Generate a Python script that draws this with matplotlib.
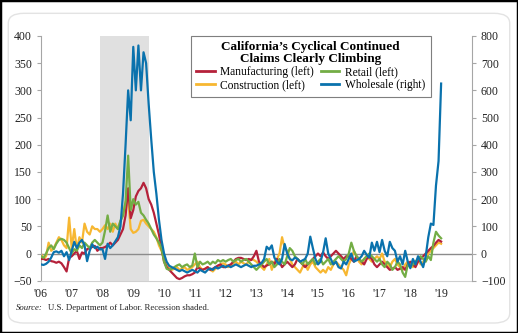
import numpy as np
import matplotlib
matplotlib.use("Agg")
import matplotlib.pyplot as plt
from matplotlib.patches import FancyBboxPatch, Rectangle
from matplotlib.lines import Line2D

plt.rcParams['font.family'] = ['Liberation Serif', 'DejaVu Serif']

# monthly, Jan 2006 .. Jan 2019, y/y % change in continued claims
manufacturing = (
    [-10, -10, -12, -10, -14, -15, -17, -15, -18, -25, -33, -8] +
    [-5, 0, 5, -10, 2, 0, 8, 10, 12, 14, 5, 10] +
    [10, 12, 15, 20, 15, 20, 25, 35, 45, 70, 120, 65] +
    [80, 105, 115, 120, 130, 120, 100, 90, 75, 55, 35, 10] +
    [-15, -25, -30, -35, -40, -45, -47, -45, -42, -40, -40, -38] +
    [-35, -25, -28, -30, -28, -25, -30, -28, -25, -22, -20, -25] +
    [-25, -22, -20, -15, -10, -8, -8, -10, -12, -10, -12, -5] +
    [5, -15, -20, -25, -22, -20, -15, -20, -10, -15, -25, -20] +
    [-15, -20, -25, -20, -10, -15, -20, -25, -20, -15, -10, -5] +
    [0, -5, 2, -5, -10, -5, 0, 5, 0, -5, -10, -5] +
    [-5, -10, -15, -5, -10, -15, -20, -10, -5, -10, -20, -25] +
    [-20, -15, -20, -25, -30, -28, -25, -30, -28, -25, -30, -20] +
    [-15, -20, -25, -15, -10, -5, 0, 5, 10, 14, 20, 25] +
    [22]
)
construction = (
    [0, -10, -5, 20, 5, 10, 20, 30, 25, 15, 10, 66] +
    [10, 45, 8, 30, 20, 55, 40, 35, 50, 45, 45, 40] +
    [45, 52, 45, 55, 40, 55, 45, 60, 70, 95, 100, 45] +
    [38, 40, 45, 60, 62, 55, 50, 45, 40, 30, 15, 5] +
    [-10, -20, -25, -30, -28, -25, -30, -28, -25, -30, -28, -25] +
    [-20, -15, -25, -30, -28, -25, -30, -33, -28, -25, -20, -18] +
    [-20, -25, -22, -18, -15, -20, -15, -18, -20, -15, -10, -12] +
    [-15, -20, -25, -30, -20, -10, -30, -15, -10, 0, 30, 10] +
    [5, -10, -20, -25, -30, -35, -25, -20, -30, -20, -15, -25] +
    [-30, -35, -30, -35, -25, -30, -20, -15, -20, -25, -30, -40] +
    [-20, -10, 5, -5, -15, -20, -10, -5, -10, -15, -10, -5] +
    [-10, 0, -15, -20, -25, -15, -10, -20, -25, -30, -20, -15] +
    [-20, -25, -15, -10, -20, -15, -10, 0, 5, 10, 15, 20] +
    [18]
)
retail = (
    [-5, -8, 0, 10, 15, 8, 18, 25, 27, 25, 20, 10] +
    [0, 8, 5, 15, 10, 20, 15, 10, 20, 25, 20, 15] +
    [20, 42, 70, 40, 55, 50, 45, 60, 70, 95, 180, 80] +
    [100, 90, 95, 75, 70, 62, 55, 45, 35, 28, 20, 10] +
    [-15, -28, -30, -28, -25, -22, -20, -25, -22, -20, -25, -22] +
    [0, -25, -15, -20, -18, -15, -20, -15, -18, -12, -15, -12] +
    [-15, -12, -10, -15, -12, -10, -15, -12, -10, -15, -20, -25] +
    [-30, -25, -20, -15, -10, -20, -15, -25, -20, -10, -15, -20] +
    [-5, 10, 5, -5, -10, -15, -20, -10, -20, -15, -10, -20] +
    [-15, -10, -20, -15, -10, -20, -15, -10, -5, -10, -15, -10] +
    [0, 20, 5, -5, -10, -15, -10, -5, 0, -5, -10, -15] +
    [-10, -20, -25, -15, -20, -30, -25, -15, -20, -35, -43, -20] +
    [-25, -20, -15, -10, -5, -10, -15, -5, -12, 20, 40, 33] +
    [28]
)
wholesale = (
    [-40, -42, -38, -30, -15, 5, 8, 3, 10, -10, 5, -24] +
    [10, 43, 20, 40, 50, 30, -28, 10, 34, 20, 25, 15] +
    [16, -20, 36, 20, 30, 45, 60, 100, 220, 400, 600, 490] +
    [760, 600, 765, 600, 740, 700, 550, 420, 300, 220, 125, 50] +
    [0, -30, -45, -50, -55, -60, -65, -60, -65, -70, -65, -60] +
    [-65, -70, -60, -65, -70, -60, -55, -60, -50, -55, -50, -45] +
    [-50, -45, -50, -45, -40, -45, -50, -45, -40, -45, -50, -45] +
    [-45, -40, -35, -20, 25, 15, 30, -15, -30, -40, -20, 35] +
    [0, -20, -25, -15, -20, -30, -25, -20, 0, 62, 20, -20] +
    [-40, -30, 5, 56, 0, -20, -40, -30, -50, -55, -30, -40] +
    [-20, 0, -30, -25, -20, -10, 10, -5, -15, 40, 10, 43] +
    [5, 50, 10, -10, 43, 20, 10, -30, -10, -40, 10, -30] +
    [-54, -20, -40, -10, -30, -50, -10, 60, 110, 105, 250, 340] +
    [625]
)
dates = 2006 + np.arange(len(wholesale)) / 12.0
recession = (2007 + 11 / 12, 2009.5)
years = list(range(2006, 2020))
year_labels = ["'%02d" % (y % 100) for y in years]

c_man = '#b5213a'
c_con = '#f7b731'
c_ret = '#73ad45'
c_who = '#0a72ad'
spine_c = '#a6a6a6'

fig = plt.figure(figsize=(5.18, 3.33), dpi=100)

# outer border and rounded frame
fig.patches.append(Rectangle((0, 0), 1, 1, transform=fig.transFigure,
                             fill=False, edgecolor='black', linewidth=2.5))
fig.patches.append(FancyBboxPatch((0.016, 0.03), 0.968, 0.93,
                                  boxstyle='round,pad=0,rounding_size=0.03',
                                  transform=fig.transFigure, fill=False,
                                  edgecolor='#e3e3e3', linewidth=1))

ax = fig.add_axes([0.079, 0.157, 0.832, 0.735])
ax2 = ax.twinx()

ax.axvspan(recession[0], recession[1], color='#e0e0e0', lw=0, zorder=0)
ax.axhline(0, color='#8c8c8c', lw=1, zorder=1)

lw = 1.6
ax.plot(dates, manufacturing, color=c_man, lw=lw, zorder=3)
ax.plot(dates, construction, color=c_con, lw=lw, zorder=2)
ax.plot(dates, retail, color=c_ret, lw=lw, zorder=4)
ax2.plot(dates, wholesale, color=c_who, lw=lw, zorder=5)

ax.set_xlim(2006, 2020)
ax.set_ylim(-50, 400)
ax2.set_ylim(-100, 800)
ax.set_yticks(range(-50, 401, 50))
ax2.set_yticks(range(-100, 801, 100))
ax.set_xticks(years)
ax.set_xticklabels(year_labels)

for a in (ax, ax2):
    for s in a.spines.values():
        s.set_color(spine_c)
        s.set_linewidth(0.8)
    a.spines['top'].set_visible(False)
    a.tick_params(axis='y', colors='#222222', labelsize=8.5, length=3,
                  width=0.8, color=spine_c)
    a.tick_params(axis='x', colors='#222222', labelsize=8.5, length=0, pad=5)
ax2.spines['left'].set_visible(False)
ax.spines['right'].set_visible(False)
ax.spines['bottom'].set_color('#d0d0d0')
ax2.spines['bottom'].set_visible(False)
ax2.patch.set_visible(False)

handles = [Line2D([], [], color=c_man, lw=2), Line2D([], [], color=c_con, lw=2),
           Line2D([], [], color=c_ret, lw=2), Line2D([], [], color=c_who, lw=2)]
labels = ['Manufacturing (left)', 'Construction (left)',
          'Retail (left)', 'Wholesale (right)']
leg = ax2.legend(handles, labels, ncol=2, loc='upper left',
                 bbox_to_anchor=(0.348, 1.0), fontsize=8.3,
                 title="California\u2019s Cyclical Continued\nClaims Clearly Climbing",
                 title_fontproperties={'weight': 'bold', 'size': 9.5},
                 frameon=True, fancybox=False, handlelength=1.6,
                 handletextpad=0.5, columnspacing=0.6, labelspacing=0.1,
                 borderpad=0.45, borderaxespad=0)
leg.get_title().set_multialignment('center')
leg.get_title().set_linespacing(1.0)
leg.get_frame().set_edgecolor('#7f7f7f')
leg.get_frame().set_linewidth(0.8)
leg.get_frame().set_alpha(1)

fig.text(0.03, 0.07, 'Source:', fontsize=6.3, style='italic', color='#222222')
fig.text(0.092, 0.07, 'U.S. Department of Labor. Recession shaded.',
         fontsize=6.3, color='#222222')

fig.savefig('out.png', dpi=100)
